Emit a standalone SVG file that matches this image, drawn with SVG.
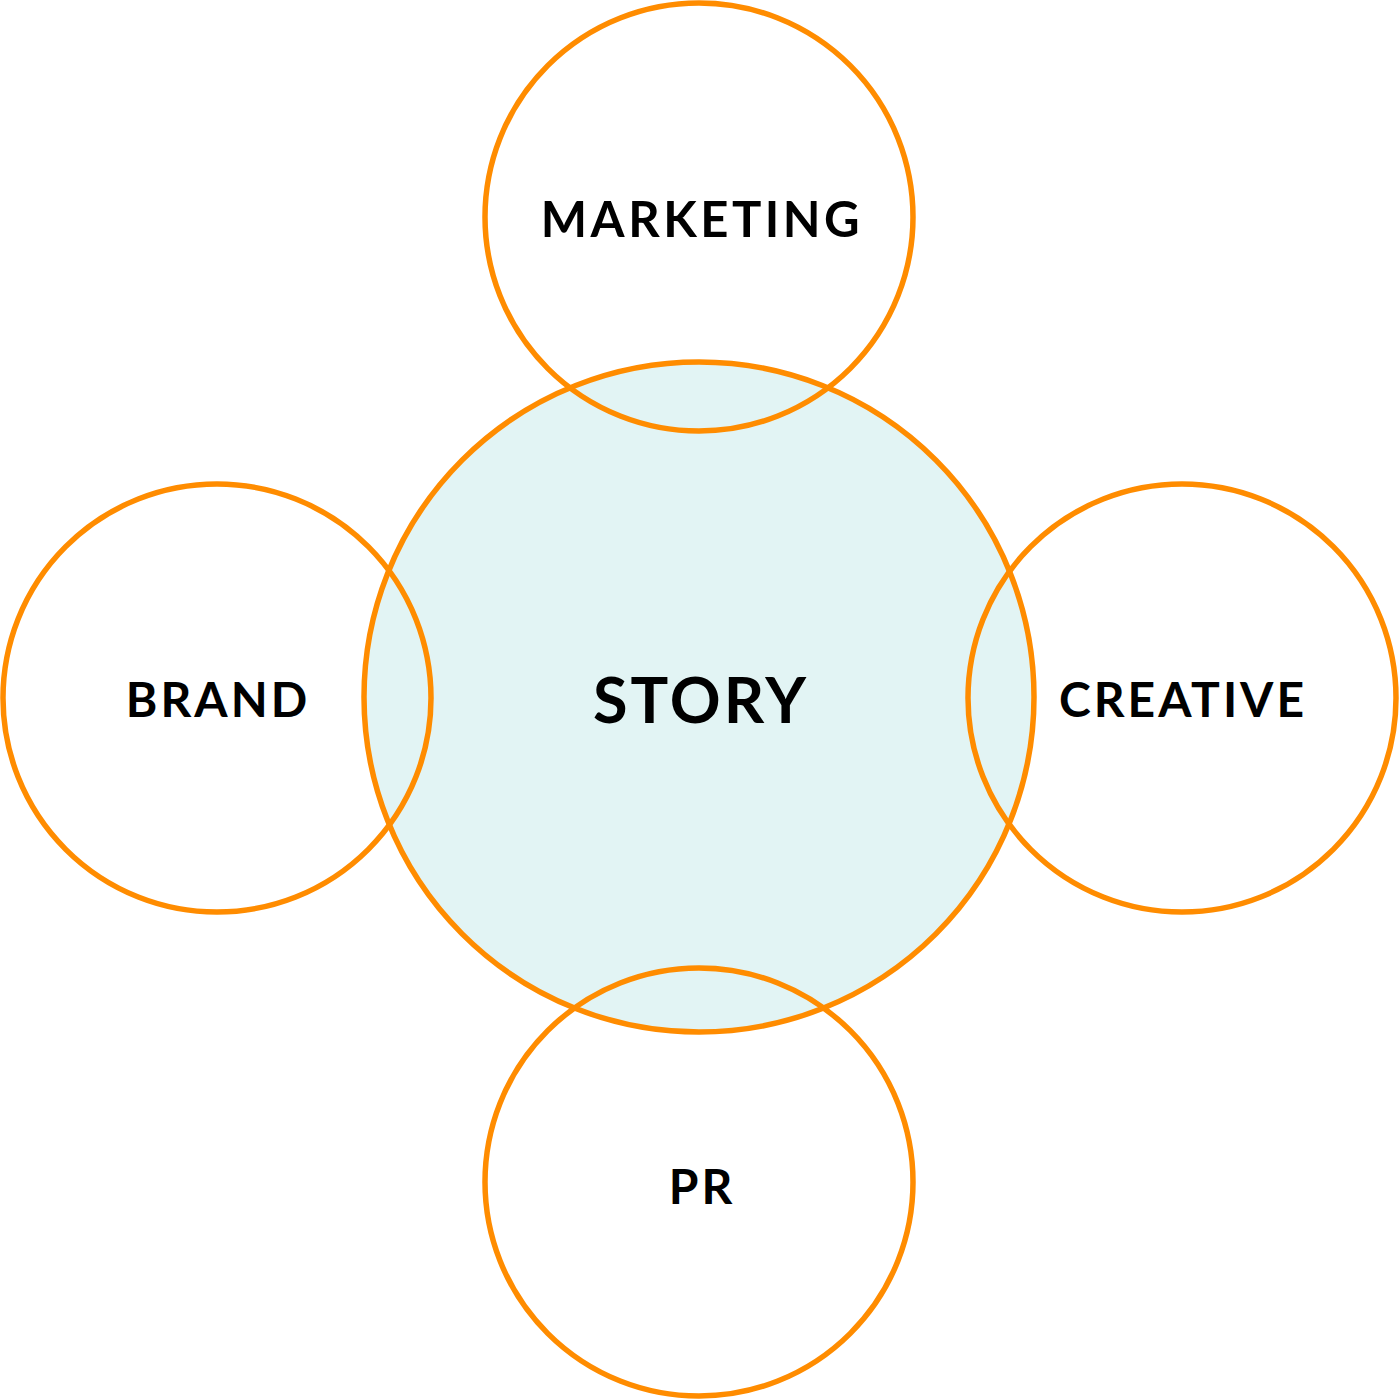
<svg xmlns="http://www.w3.org/2000/svg" width="1400" height="1400" viewBox="0 0 1400 1400">
<style>
.c{fill:none;stroke:#FF8C00;stroke-width:5.5}
.core{fill:#E2F4F4;stroke:#FF8C00;stroke-width:5.5}
.t{font-family:Lato,"Liberation Sans",sans-serif;font-weight:bold;fill:#000;text-anchor:middle;letter-spacing:3px}
</style>
<rect width="1400" height="1400" fill="#fff"/>
<g id="story"><circle class="core" cx="699" cy="697" r="335"/></g>
<g id="marketing"><circle class="c" cx="699" cy="217" r="214"/><text class="t" x="702" y="237" font-size="49" style="letter-spacing:3.5px">MARKETING</text></g>
<g id="brand"><circle class="c" cx="217" cy="698" r="214"/><text class="t" x="218" y="717" font-size="48">BRAND</text></g>
<g id="creative"><circle class="c" cx="1182" cy="698" r="214"/><text class="t" x="1183" y="717" font-size="48">CREATIVE</text></g>
<g id="pr"><circle class="c" cx="699" cy="1182" r="214"/><text class="t" x="702" y="1204" font-size="48">PR</text></g>
<text class="t" x="701" y="723" font-size="63">STORY</text>
</svg>
